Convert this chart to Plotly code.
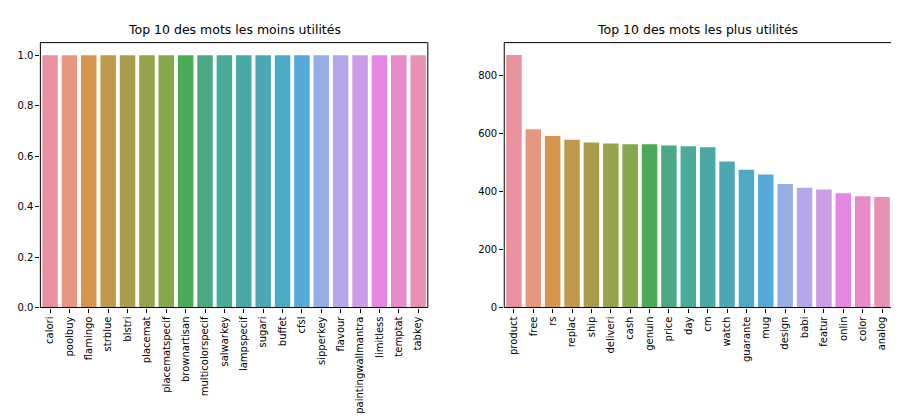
import plotly.graph_objects as go
from plotly.subplots import make_subplots

mots_moins = ["calori", "poolbuy", "flamingo", "strblue", "blstri", "placemat",
              "placematspecif", "brownartisan", "multicolorspecif", "salwarkey",
              "lampspecif", "sugari", "buffet", "cfsl", "sipperkey", "flavour",
              "paintingwallmantra", "limitless", "temptat", "tabkey"]
freq_moins = [1] * 20

mots_plus = ["product", "free", "rs", "replac", "ship", "deliveri", "cash", "genuin",
             "price", "day", "cm", "watch", "guarante", "mug", "design", "babi",
             "featur", "onlin", "color", "analog"]
freq_plus = [871, 615, 592, 579, 569, 566, 563, 563, 559, 556, 553, 504, 475, 459,
             426, 413, 407, 394, 384, 381]

palette = ["#e9919f", "#e8977f", "#d8954d", "#c0994d", "#a99c4a", "#98a24b",
           "#84a84b", "#4baa55", "#4aa983", "#4aab98", "#4aa8a4", "#4aa9b4",
           "#4daac4", "#56a8d8", "#96aee6", "#b4a6e8", "#cd9ce6", "#e586e2",
           "#e78ac9", "#e791b5"]

fig = make_subplots(rows=1, cols=2)
fig.add_trace(go.Bar(x=mots_moins, y=freq_moins, marker_color=palette,
                     marker_line_width=0, width=0.8), row=1, col=1)
fig.add_trace(go.Bar(x=mots_plus, y=freq_plus, marker_color=palette,
                     marker_line_width=0, width=0.8), row=1, col=2)

axis_style = dict(showgrid=False, zeroline=False, showline=False,
                  ticks="outside", ticklen=4, tickcolor="black",
                  tickfont=dict(size=10, color="black"))
fig.update_xaxes(**axis_style, tickangle=-90)
fig.update_yaxes(**axis_style)
fig.update_xaxes(domain=[0.036, 0.467], range=[-0.5, 19.5], row=1, col=1)
fig.update_xaxes(domain=[0.552, 0.983], range=[-0.5, 19.5], row=1, col=2)
fig.update_yaxes(domain=[0.273, 0.916], range=[0, 1.05], dtick=0.2, tickformat=".1f",
                 row=1, col=1)
fig.update_yaxes(domain=[0.273, 0.916], range=[0, 914], dtick=200, row=1, col=2)

for xr, yr in [("x", "y"), ("x2", "y2")]:
    fig.add_shape(type="rect", xref=xr + " domain", yref=yr + " domain",
                  x0=0, x1=1, y0=0, y1=1, line=dict(color="black", width=1))

for txt, x in [("Top 10 des mots les moins utilités", 0.2515),
               ("Top 10 des mots les plus utilités", 0.7675)]:
    fig.add_annotation(text=txt, x=x, y=0.925, xref="paper", yref="paper",
                       xanchor="center", yanchor="bottom", showarrow=False,
                       font=dict(size=12.5, color="black"))

fig.update_layout(width=899, height=417, margin=dict(l=0, r=0, t=0, b=0),
                  plot_bgcolor="white", paper_bgcolor="white", showlegend=False,
                  font=dict(family="DejaVu Sans"))
fig.write_html("out.html")
